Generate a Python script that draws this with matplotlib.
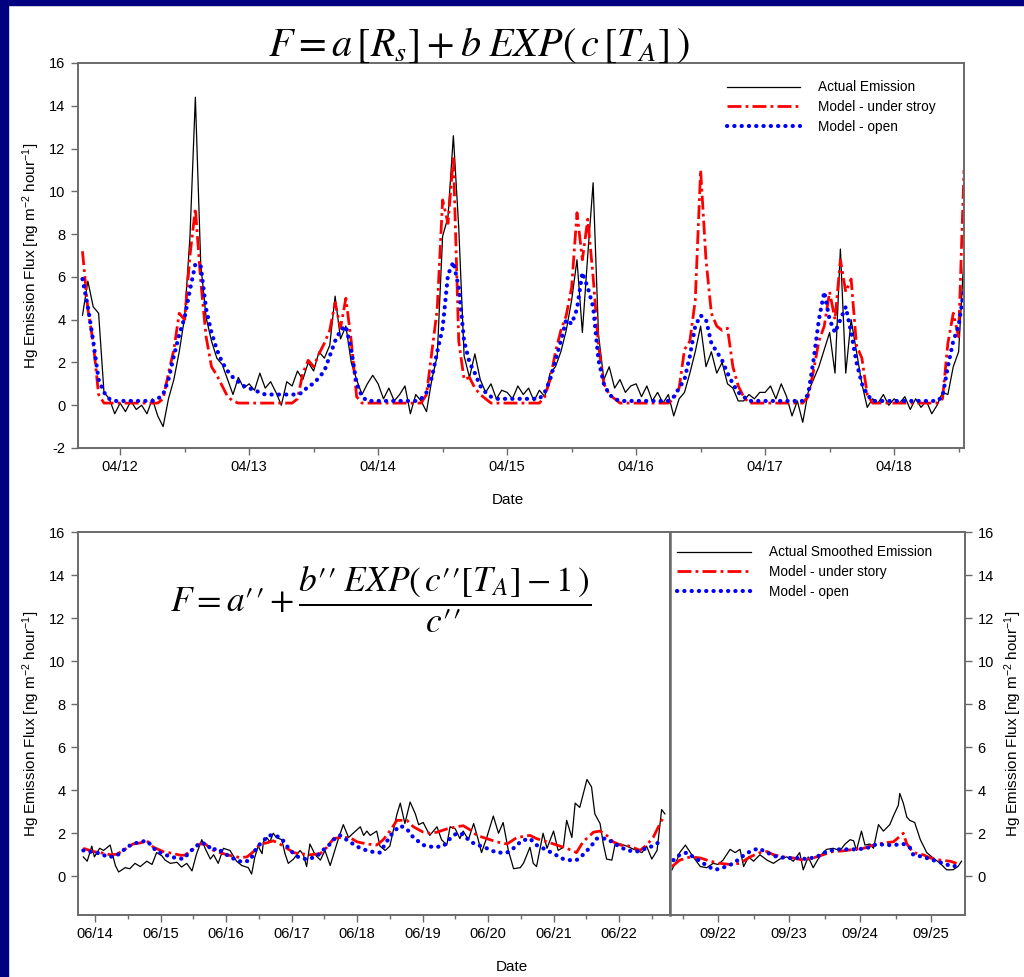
import numpy as np
import pandas as pd
import matplotlib
matplotlib.use("Agg")
import matplotlib.pyplot as plt
import matplotlib.dates as mdates
from matplotlib.patches import Rectangle

plt.rcParams['font.family'] = ['Liberation Sans', 'DejaVu Sans']
plt.rcParams['mathtext.fontset'] = 'custom'
plt.rcParams['mathtext.rm'] = 'Liberation Sans'
plt.rcParams['mathtext.it'] = 'Liberation Sans:italic'
plt.rcParams['axes.unicode_minus'] = False

# ---- April run: hourly values starting 04/11 17:00 ----
april_start = "2004-04-11 17:00"
april_actual = [
    4.2, 5.8, 4.6, 4.3, 0.6, 0.3, -0.4,
    0.1, -0.3, 0.2, -0.2, 0.0, -0.4, 0.3, -0.5, -1.0, 0.3, 1.2, 2.5, 4.1, 7.9, 14.4, 6.6, 4.1, 3.0, 2.2, 1.9, 1.2, 0.5, 1.3, 0.8,
    1.0, 0.7, 1.5, 0.8, 1.1, 0.6, 0.0, 1.1, 0.9, 1.6, 1.2, 2.0, 1.6, 2.5, 2.2, 2.8, 5.1, 3.1, 3.7, 2.0, 1.2, 0.5, 1.0, 1.4,
    1.0, 0.3, 0.8, 0.2, 0.5, 0.9, -0.4, 0.5, 0.2, -0.3, 1.2, 2.3, 7.9, 8.8, 12.6, 8.3, 2.3, 1.3, 2.4, 1.2, 0.6, 1.0, 0.3, 0.7,
    0.6, 0.3, 0.9, 0.5, 0.8, 0.2, 0.7, 0.4, 1.5, 1.8, 2.5, 3.5, 4.9, 6.8, 3.4, 7.0, 10.4, 3.3, 1.2, 1.8, 0.8, 1.2, 0.6, 0.9,
    1.0, 0.4, 0.9, 0.2, 0.6, 0.1, 0.5, -0.5, 0.3, 0.6, 1.5, 2.5, 3.7, 1.8, 2.5, 1.5, 2.0, 1.0, 0.8, 0.2, 0.2, 0.5, 0.3, 0.6,
    0.6, 0.9, 0.3, 1.0, 0.4, -0.5, 0.2, -0.8, 0.6, 1.2, 1.8, 2.6, 3.4, 1.5, 7.3, 1.5, 4.0, 2.5, 1.0, -0.1, 0.3, 0.1, 0.5, 0.0,
    0.3, 0.1, 0.4, -0.2, 0.3, -0.1, 0.2, -0.4, 0.0, 0.6, 0.5, 1.8, 2.5, 7.0,
]
april_under = [
    7.2, 4.5, 2.9, 0.5, 0.1, 0.1, 0.1,
    0.1, 0.1, 0.1, 0.1, 0.1, 0.1, 0.1, 0.1, 0.3, 1.5, 2.6, 4.3, 4.0, 7.0, 9.2, 5.8, 3.2, 1.8, 1.4, 0.9, 0.4, 0.2, 0.1, 0.1,
    0.1, 0.1, 0.1, 0.1, 0.1, 0.1, 0.1, 0.1, 0.1, 0.3, 1.5, 2.1, 1.8, 2.4, 2.9, 3.5, 4.8, 3.6, 5.0, 3.0, 0.4, 0.1, 0.1, 0.1,
    0.1, 0.1, 0.1, 0.1, 0.1, 0.1, 0.1, 0.1, 0.1, 0.5, 2.5, 4.5, 9.6, 8.5, 11.6, 3.0, 1.2, 1.3, 0.8, 0.5, 0.3, 0.1, 0.1, 0.1,
    0.1, 0.1, 0.1, 0.1, 0.1, 0.1, 0.1, 0.4, 1.2, 2.5, 3.5, 4.2, 5.5, 9.0, 6.8, 8.7, 6.0, 2.8, 1.0, 0.5, 0.3, 0.1, 0.1, 0.1,
    0.1, 0.1, 0.1, 0.1, 0.1, 0.1, 0.1, 0.3, 0.8, 2.6, 3.0, 4.9, 11.0, 6.8, 4.3, 3.7, 3.5, 3.6, 1.8, 0.9, 0.4, 0.1, 0.1, 0.1,
    0.1, 0.1, 0.1, 0.1, 0.1, 0.1, 0.1, 0.1, 0.4, 1.6, 3.0, 3.7, 5.3, 4.0, 6.8, 5.3, 5.9, 2.8, 2.2, 0.5, 0.1, 0.1, 0.1, 0.1,
    0.1, 0.1, 0.1, 0.1, 0.1, 0.1, 0.1, 0.1, 0.1, 0.3, 2.9, 4.3, 3.2, 11.0,
]
april_open = [
    5.9, 4.6, 3.0, 1.2, 0.6, 0.3, 0.2,
    0.2, 0.2, 0.2, 0.2, 0.2, 0.2, 0.2, 0.3, 0.5, 1.2, 2.3, 3.3, 4.1, 5.4, 6.6, 6.5, 4.5, 3.4, 2.6, 2.0, 1.6, 1.3, 1.1, 0.9,
    0.8, 0.7, 0.6, 0.5, 0.5, 0.5, 0.5, 0.5, 0.5, 0.5, 0.6, 0.9, 1.0, 1.3, 1.6, 2.3, 3.0, 3.5, 3.7, 2.6, 1.0, 0.4, 0.2, 0.2,
    0.2, 0.2, 0.2, 0.2, 0.2, 0.2, 0.2, 0.2, 0.3, 0.6, 1.3, 2.5, 3.6, 6.1, 6.7, 5.5, 3.0, 2.0, 1.5, 0.9, 0.6, 0.4, 0.3, 0.3,
    0.3, 0.3, 0.3, 0.3, 0.3, 0.3, 0.3, 0.6, 1.2, 2.1, 3.0, 4.0, 3.8, 4.5, 6.2, 5.5, 4.6, 2.1, 1.0, 0.5, 0.3, 0.2, 0.2, 0.2,
    0.2, 0.2, 0.2, 0.2, 0.2, 0.2, 0.2, 0.4, 0.8, 1.2, 2.3, 3.7, 4.2, 4.0, 2.9, 2.5, 2.1, 1.5, 1.0, 0.6, 0.4, 0.2, 0.2, 0.2,
    0.2, 0.2, 0.2, 0.2, 0.2, 0.2, 0.2, 0.2, 0.5, 2.1, 4.0, 5.3, 4.0, 3.4, 4.0, 4.6, 3.4, 2.0, 1.0, 0.5, 0.2, 0.2, 0.2, 0.2,
    0.2, 0.2, 0.2, 0.2, 0.2, 0.2, 0.2, 0.2, 0.2, 0.4, 1.8, 3.0, 3.7, 5.4,
]

# ---- June run: days after 06/14 00:00 ----
june_start = "2004-06-14"
june_actual_d = [
    -0.18, -0.12, -0.05, -0.01, 0.07, 0.13, 0.23, 0.31, 0.36, 0.46, 0.53, 0.61, 0.69, 0.79, 0.87, 0.94,
    1.02, 1.07, 1.15, 1.25, 1.32, 1.40, 1.48, 1.55, 1.63, 1.68, 1.76, 1.81, 1.88, 1.96,
    2.06, 2.16, 2.24, 2.34, 2.39, 2.44, 2.49, 2.55, 2.57, 2.62, 2.67, 2.72, 2.77, 2.85, 2.90, 2.95,
    3.03, 3.08, 3.13, 3.18, 3.23, 3.28, 3.36, 3.44, 3.51, 3.59, 3.66, 3.71, 3.79, 3.87, 3.94,
    4.05, 4.10, 4.15, 4.20, 4.30, 4.35, 4.43, 4.50, 4.61, 4.66, 4.73, 4.81, 4.89, 4.94,
    5.01, 5.11, 5.22, 5.29, 5.37, 5.42, 5.50, 5.57, 5.62, 5.70, 5.78, 5.85, 5.90, 5.98,
    6.08, 6.16, 6.23, 6.31, 6.39, 6.49, 6.54, 6.64, 6.69, 6.74, 6.84, 6.90,
    7.00, 7.07, 7.15, 7.20, 7.28, 7.33, 7.40, 7.51, 7.58, 7.63, 7.71, 7.76, 7.81, 7.89, 7.94,
    8.02, 8.12, 8.19, 8.27, 8.35, 8.42, 8.50, 8.58, 8.65, 8.70,
]
june_actual = [
    0.9, 0.7, 1.4, 0.9, 1.3, 1.2, 1.45, 0.5, 0.2, 0.4, 0.35, 0.6, 0.45, 0.7, 0.55, 1.1,
    0.95, 0.75, 0.6, 0.65, 0.43, 0.6, 0.25, 1.05, 1.7, 1.3, 0.8, 1.0, 0.6, 1.3,
    1.2, 0.7, 0.5, 0.4, 0.1, 0.9, 1.4, 1.05, 1.6, 1.8, 1.6, 2.0, 1.8, 1.7, 1.05, 0.6,
    0.8, 1.0, 1.2, 1.0, 0.45, 1.5, 1.0, 0.75, 1.2, 0.5, 1.2, 1.7, 2.4, 1.8, 2.0,
    2.3, 1.9, 2.1, 1.9, 2.1, 1.4, 1.2, 1.4, 2.9, 3.4, 2.45, 3.45, 2.9, 2.4,
    2.5, 1.9, 2.3, 1.7, 1.45, 2.3, 2.2, 1.75, 2.1, 1.7, 2.45, 1.7, 1.1, 1.8,
    2.8, 2.0, 2.5, 1.2, 0.35, 0.4, 0.6, 1.35, 0.6, 0.45, 2.0, 1.3,
    2.1, 1.2, 1.35, 2.6, 1.8, 3.4, 3.2, 4.5, 4.15, 2.9, 2.45, 1.5, 0.8, 0.75, 1.5,
    1.5, 1.4, 1.3, 1.2, 1.1, 1.4, 0.8, 1.2, 3.1, 2.9,
]
june_under_d = [
    -0.18, -0.03, 0.08, 0.23, 0.33, 0.43, 0.58, 0.69, 0.79, 0.89, 1.04, 1.20, 1.30, 1.37, 1.45, 1.60,
    1.68, 1.81, 2.01, 2.21, 2.32, 2.42, 2.52, 2.62, 2.72, 2.82, 2.93, 3.03, 3.13, 3.28, 3.44, 3.54,
    3.64, 3.74, 3.89, 4.00, 4.15, 4.30, 4.40, 4.50, 4.61, 4.76, 4.86, 5.01, 5.11, 5.22, 5.37, 5.52,
    5.62, 5.73, 5.83, 5.98, 6.13, 6.29, 6.44, 6.64, 6.74, 6.90, 7.05, 7.20, 7.35, 7.45, 7.61, 7.71,
    7.81, 7.91, 8.02, 8.17, 8.32, 8.42, 8.52, 8.65, 8.68,
]
june_under = [
    1.3, 1.15, 1.1, 1.0, 1.02, 1.2, 1.5, 1.55, 1.65, 1.35, 1.15, 1.05, 0.98, 0.98, 1.15, 1.5,
    1.5, 1.2, 1.0, 0.87, 0.9, 1.15, 1.5, 1.55, 1.65, 1.5, 1.3, 1.1, 1.05, 1.0, 1.05, 1.35,
    1.75, 1.8, 1.8, 1.6, 1.5, 1.45, 1.7, 2.1, 2.6, 2.6, 2.3, 2.05, 2.0, 2.05, 2.2, 2.3,
    2.35, 2.15, 1.9, 1.75, 1.6, 1.5, 1.8, 1.9, 1.75, 1.6, 1.45, 1.3, 1.1, 1.6, 2.05, 2.1,
    1.9, 1.6, 1.45, 1.4, 1.2, 1.45, 1.8, 2.6, 2.75,
]
june_open_d = [
    -0.18, 0.0, 0.10, 0.18, 0.28, 0.38, 0.48, 0.58, 0.69, 0.79, 0.87, 0.94, 1.04, 1.15, 1.25, 1.35,
    1.45, 1.53, 1.60, 1.71, 1.78, 1.86, 1.96, 2.06, 2.16, 2.26, 2.37, 2.47, 2.57, 2.65, 2.75, 2.85,
    2.93, 3.00, 3.10, 3.21, 3.31, 3.41, 3.51, 3.59, 3.64, 3.74, 3.84, 3.94, 4.05, 4.20, 4.35, 4.45,
    4.55, 4.66, 4.76, 4.86, 5.01, 5.17, 5.32, 5.42, 5.52, 5.62, 5.73, 5.85, 5.98, 6.13, 6.29, 6.41,
    6.51, 6.64, 6.74, 6.84, 7.00, 7.15, 7.25, 7.35, 7.45, 7.56, 7.66, 7.81, 7.97, 8.12, 8.27, 8.42,
    8.55, 8.63,
]
june_open = [
    1.2, 1.1, 1.05, 0.9, 0.92, 1.05, 1.35, 1.5, 1.6, 1.65, 1.4, 1.15, 1.05, 0.9, 0.85, 0.8,
    1.15, 1.35, 1.55, 1.5, 1.2, 1.3, 1.1, 0.9, 0.75, 0.65, 0.75, 1.35, 1.65, 1.9, 1.9, 1.75,
    1.4, 1.15, 0.9, 0.8, 0.85, 1.0, 1.3, 1.5, 1.7, 1.9, 1.7, 1.5, 1.3, 1.15, 1.1, 1.6,
    2.05, 2.35, 2.2, 1.8, 1.45, 1.35, 1.4, 1.75, 2.0, 1.95, 1.6, 1.45, 1.3, 1.1, 1.1, 1.35,
    1.65, 1.75, 1.45, 1.3, 1.05, 0.8, 0.75, 0.75, 1.0, 1.35, 1.75, 1.75, 1.45, 1.2, 1.15, 1.3,
    1.45, 1.65,
]

# ---- September run: days after 09/22 00:00 ----
sept_start = "2004-09-22"
sept_actual_d = [
    -0.65, -0.58, -0.54, -0.46, -0.39, -0.35, -0.25, -0.16, -0.07, 0.0, 0.07, 0.17, 0.24, 0.31, 0.36,
    0.43, 0.50, 0.59, 0.69, 0.78, 0.87, 0.97, 1.06, 1.15, 1.20, 1.27, 1.34, 1.41, 1.48, 1.53, 1.62,
    1.72, 1.79, 1.86, 1.91, 1.95, 2.02, 2.07, 2.14, 2.19, 2.26, 2.33, 2.42, 2.47, 2.54, 2.56, 2.61,
    2.66, 2.70, 2.77, 2.85, 2.94, 3.03, 3.13, 3.22, 3.31, 3.38, 3.43,
]
sept_actual = [
    0.3, 0.75, 1.1, 1.45, 1.1, 0.9, 0.45, 0.4, 0.6, 0.55, 0.75, 1.25, 1.1, 1.25, 0.45,
    0.9, 0.7, 1.0, 0.75, 0.6, 0.8, 0.9, 0.7, 1.1, 0.3, 0.9, 0.4, 0.8, 1.1, 1.25, 1.3,
    1.2, 1.5, 1.7, 1.65, 1.2, 2.1, 1.45, 1.5, 1.3, 2.4, 2.1, 2.4, 2.8, 3.3, 3.85, 3.4,
    2.75, 2.6, 2.5, 1.7, 1.1, 0.85, 0.6, 0.3, 0.3, 0.45, 0.7,
]
sept_under_d = [
    -0.65, -0.54, -0.39, -0.25, -0.11, 0.03, 0.17, 0.31, 0.45, 0.59, 0.69, 0.78, 0.92, 1.06, 1.20,
    1.34, 1.48, 1.62, 1.76, 1.91, 2.05, 2.19, 2.33, 2.47, 2.56, 2.61, 2.66, 2.75, 2.89, 2.99, 3.13,
    3.27, 3.36,
]
sept_under = [
    0.45, 0.75, 0.9, 0.85, 0.7, 0.6, 0.55, 0.6, 0.9, 1.1, 1.15, 1.0, 0.9, 0.85, 0.75,
    0.85, 1.0, 1.15, 1.18, 1.25, 1.3, 1.45, 1.55, 1.6, 1.85, 2.0, 1.5, 1.1, 1.0, 0.85, 0.75,
    0.7, 0.6,
]
sept_open_d = [
    -0.63, -0.54, -0.44, -0.35, -0.25, -0.14, -0.04, 0.07, 0.22, 0.33, 0.45, 0.57, 0.69, 0.83, 0.97,
    1.11, 1.25, 1.39, 1.53, 1.67, 1.81, 1.95, 2.09, 2.24, 2.38, 2.47, 2.61, 2.70, 2.75, 2.89, 3.03,
    3.17, 3.31, 3.41,
]
sept_open = [
    0.75, 1.0, 1.1, 0.9, 0.7, 0.45, 0.3, 0.4, 0.6, 0.9, 1.15, 1.3, 1.1, 0.9, 0.85,
    0.85, 0.8, 0.9, 1.15, 1.25, 1.25, 1.25, 1.3, 1.5, 1.45, 1.45, 1.5, 1.35, 1.0, 0.9, 0.75,
    0.6, 0.45, 0.55,
]

NAVY = '#000080'
SPINE = '#6a6a6a'
RED = '#ff0000'
BLUE = '#0000ff'
YLABEL = 'Hg Emission Flux [ng m$^{-2}$ hour$^{-1}$]'


def days_to_time(start, days):
    return pd.Timestamp(start) + pd.to_timedelta(np.array(days), unit='D')


def draw_series(ax, t_act, v_act, t_und, v_und, t_opn, v_opn, labels):
    ax.plot(t_act, v_act, color='black', lw=0.9, label=labels[0])
    ax.plot(t_und, v_und, color=RED, lw=2.0, dashes=(5, 1.5, 1, 1.5), label=labels[1])
    ax.plot(t_opn, v_opn, color=BLUE, lw=3.0, linestyle=(0, (0.05, 1.7)),
            dash_capstyle='round', label=labels[2])


def style_axis(ax):
    for sp in ax.spines.values():
        sp.set_color(SPINE)
        sp.set_linewidth(1.4)
    ax.tick_params(which='major', direction='out', length=5, width=1, color=SPINE,
                   labelsize=10.5, pad=4)
    ax.tick_params(which='minor', direction='out', length=3, width=1, color=SPINE)
    ax.xaxis.set_major_locator(mdates.DayLocator())
    ax.xaxis.set_minor_locator(mdates.HourLocator(byhour=12))
    ax.xaxis.set_major_formatter(mdates.DateFormatter('%m/%d'))


fig = plt.figure(figsize=(10.24, 9.77), dpi=100, facecolor='white')
fig.add_artist(Rectangle((0, 0), 8 / 1024, 1, transform=fig.transFigure, color=NAVY, zorder=0))
fig.add_artist(Rectangle((0, 1 - 5 / 977), 1, 5 / 977, transform=fig.transFigure, color=NAVY, zorder=0))

# ---- top panel ----
ax1 = fig.add_axes([78 / 1024, 1 - 448 / 977, 886 / 1024, 385 / 977])
t_apr = pd.date_range(april_start, periods=len(april_actual), freq='h')
draw_series(ax1, t_apr, april_actual, t_apr, april_under, t_apr, april_open,
            ['Actual Emission', 'Model - under stroy', 'Model - open'])
style_axis(ax1)
ax1.set_ylim(-2, 16)
ax1.set_yticks(np.arange(-2, 17, 2))
ax1.set_xlim(pd.Timestamp('2004-04-11 16:10'), pd.Timestamp('2004-04-18 13:00'))
ax1.set_ylabel(YLABEL, fontsize=11, labelpad=5)
ax1.legend(loc='upper left', bbox_to_anchor=(0.732, 0.955), frameon=False, fontsize=9.8,
           handlelength=5.4, handletextpad=1.3, labelspacing=0.42, borderpad=0, borderaxespad=0)
fig.text(508 / 1024, 1 - 500 / 977, 'Date', ha='center', va='center', fontsize=11)
fig.text(479 / 1024, 1 - 45 / 977, r'$F = a\,[R_s] + b\;EXP(\,c\,[T_A]\,)$',
         ha='center', va='center', fontsize=29, math_fontfamily='stix')

# ---- bottom left panel (June) ----
ax2 = fig.add_axes([78 / 1024, 1 - 915 / 977, 592 / 1024, 383 / 977])
draw_series(ax2, days_to_time(june_start, june_actual_d), june_actual,
            days_to_time(june_start, june_under_d), june_under,
            days_to_time(june_start, june_open_d), june_open, ['a', 'b', 'c'])
style_axis(ax2)
ax2.set_ylim(-1.8, 16)
ax2.set_yticks(np.arange(0, 17, 2))
ax2.set_xlim(pd.Timestamp('2004-06-13 17:45'), pd.Timestamp('2004-06-22 18:40'))
ax2.set_ylabel(YLABEL, fontsize=11, labelpad=5)
fig.text(170 / 1024, 1 - 600 / 977,
         r'$F = a\prime\prime + \dfrac{b\prime\prime\;EXP(\,c\prime\prime[T_A]-1\,)}{c\prime\prime}$',
         ha='left', va='center', fontsize=25.5, math_fontfamily='stix')

# ---- bottom right panel (September) ----
ax3 = fig.add_axes([670 / 1024, 1 - 915 / 977, 295 / 1024, 383 / 977])
draw_series(ax3, days_to_time(sept_start, sept_actual_d), sept_actual,
            days_to_time(sept_start, sept_under_d), sept_under,
            days_to_time(sept_start, sept_open_d), sept_open,
            ['Actual Smoothed Emission', 'Model - under story', 'Model - open'])
style_axis(ax3)
ax3.spines['left'].set_linewidth(1.8)
ax3.set_ylim(-1.8, 16)
ax3.set_yticks(np.arange(0, 17, 2))
ax3.yaxis.tick_right()
ax3.yaxis.set_label_position('right')
ax3.set_xlim(pd.Timestamp('2004-09-21 07:45'), pd.Timestamp('2004-09-25 11:30'))
ax3.set_ylabel(YLABEL, fontsize=11, labelpad=6)
ax3.legend(loc='upper left', bbox_to_anchor=(0.024, 0.965), frameon=False, fontsize=9.8,
           handlelength=5.4, handletextpad=1.35, labelspacing=0.42, borderpad=0, borderaxespad=0)
fig.text(512 / 1024, 1 - 967 / 977, 'Date', ha='center', va='center', fontsize=11)

fig.savefig('out.png', dpi=100, facecolor='white')
